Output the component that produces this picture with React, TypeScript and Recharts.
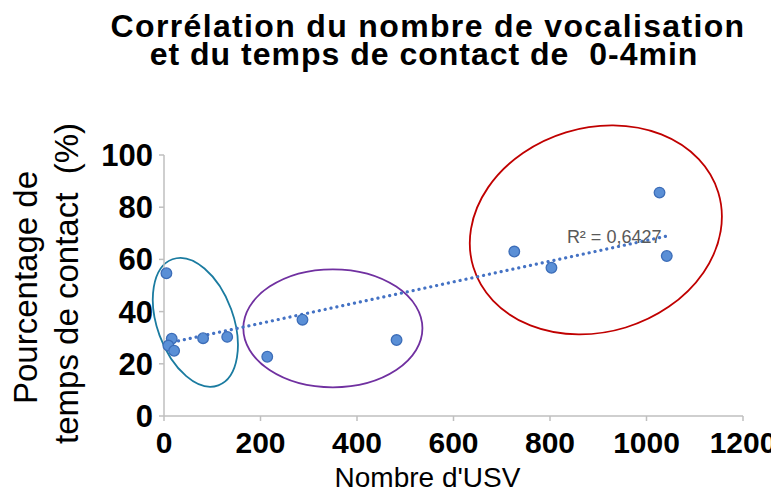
import React from 'react';
import { ScatterChart, Scatter, XAxis, YAxis, ReferenceLine, ReferenceArea, ReferenceDot } from 'recharts';

const FONT = '"Liberation Sans", Arial, sans-serif';

// Nombre d'USV / % temps de contact
const usv = [5, 16, 9, 21, 81, 131, 214, 287, 482, 726, 803, 1027, 1042];
const contact = [54.7, 29.6, 27, 25, 29.8, 30.3, 22.7, 36.9, 29.1, 63, 56.8, 85.6, 61.3];

const xTicks = [0, 200, 400, 600, 800, 1000, 1200];
const yTicks = [0, 20, 40, 60, 80, 100];

// trendline endpoints (linear fit)
const trendX = [5.6, 1044];
const trendY = [27.8, 69];
const r2Label = 'R² = 0,6427';

// group ellipses: centre, radii (data units), tilt in degrees
const groupNames = ['low', 'mid', 'high'];
const groupCx = [65, 350, 895];
const groupCy = [35.9, 33.6, 71.3];
const groupRx = [79, 185.6, 265.4];
const groupRy = [25.7, 22.6, 39.1];
const groupTilt = [-20, 0, -17];
const groupColors = ['#1A7BA0', '#7030A0', '#C00000'];

const points = usv.map((x, i) => ({ x, y: contact[i] }));

const Dot = (props: any) => (
  <circle cx={props.cx} cy={props.cy} r={5.3} fill="#5A8FD6" stroke="#3C6DB8" strokeWidth={1.3} />
);

const makeEllipse = (color: string, tilt: number) => (props: any) => {
  const { x, y, width, height } = props;
  const cx = x + width / 2;
  const cy = y + height / 2;
  return (
    <ellipse
      cx={cx}
      cy={cy}
      rx={Math.abs(width) / 2}
      ry={Math.abs(height) / 2}
      fill="none"
      stroke={color}
      strokeWidth={1.8}
      transform={`rotate(${tilt} ${cx} ${cy})`}
    />
  );
};

const R2Text = (props: any) => (
  <text x={props.cx} y={props.cy} fill="#595959" fontSize={18} fontFamily={FONT}>
    {r2Label}
  </text>
);

export default function App() {
  return (
    <div style={{ position: 'relative', width: 771, height: 489 }}>
      <ScatterChart width={771} height={489} margin={{ top: 147, right: 36, left: 0, bottom: 0 }}>
        <XAxis
          type="number"
          dataKey="x"
          domain={[0, 1200]}
          ticks={xTicks}
          height={81}
          stroke="#BFBFBF"
          strokeWidth={1.5}
          tickSize={5}
          tickMargin={11}
          tick={{ fontSize: 30, fontWeight: 'bold', fill: '#000', fontFamily: FONT }}
        />
        <YAxis
          type="number"
          dataKey="y"
          domain={[0, 100]}
          ticks={yTicks}
          width={156}
          stroke="#BFBFBF"
          strokeWidth={1.5}
          tickSize={5}
          tickMargin={6}
          tick={{ fontSize: 31, fontWeight: 'bold', fill: '#000', fontFamily: FONT }}
        />
        {groupNames.map((name, i) => (
          <ReferenceArea
            key={name}
            x1={groupCx[i] - groupRx[i]}
            x2={groupCx[i] + groupRx[i]}
            y1={groupCy[i] - groupRy[i]}
            y2={groupCy[i] + groupRy[i]}
            ifOverflow="visible"
            shape={makeEllipse(groupColors[i], groupTilt[i])}
          />
        ))}
        <ReferenceLine
          segment={[
            { x: trendX[0], y: trendY[0] },
            { x: trendX[1], y: trendY[1] },
          ]}
          stroke="#4472C4"
          strokeWidth={3.2}
          strokeDasharray="0.1 5.9"
          strokeLinecap="round"
          ifOverflow="visible"
        />
        <ReferenceDot x={835} y={66.3} r={0} ifOverflow="visible" shape={R2Text} />
        <Scatter data={points} shape={Dot} isAnimationActive={false} />
      </ScatterChart>
      <svg
        width={771}
        height={489}
        style={{ position: 'absolute', left: 0, top: 0, pointerEvents: 'none' }}
        fontFamily={FONT}
      >
        <text x={420} y={29} textAnchor="middle" fontSize={32} fontWeight="bold" letterSpacing={1.35}>
          Corrélation du nombre de vocalisation
        </text>
        <text x={416} y={57} textAnchor="middle" fontSize={32} fontWeight="bold" letterSpacing={1} xmlSpace="preserve">
          {'et du temps de contact de  0-4min'}
        </text>
        <text x={419.5} y={479} textAnchor="middle" fontSize={28}>
          Nombre d'USV
        </text>
        <text x={29} y={279.5} textAnchor="middle" fontSize={33} transform="rotate(-90 29 279.5)">
          Pourcentage de
        </text>
        <text x={70} y={275.5} textAnchor="middle" fontSize={33} transform="rotate(-90 70 275.5)" xmlSpace="preserve">
          {'temps de contact  (%)'}
        </text>
      </svg>
    </div>
  );
}
